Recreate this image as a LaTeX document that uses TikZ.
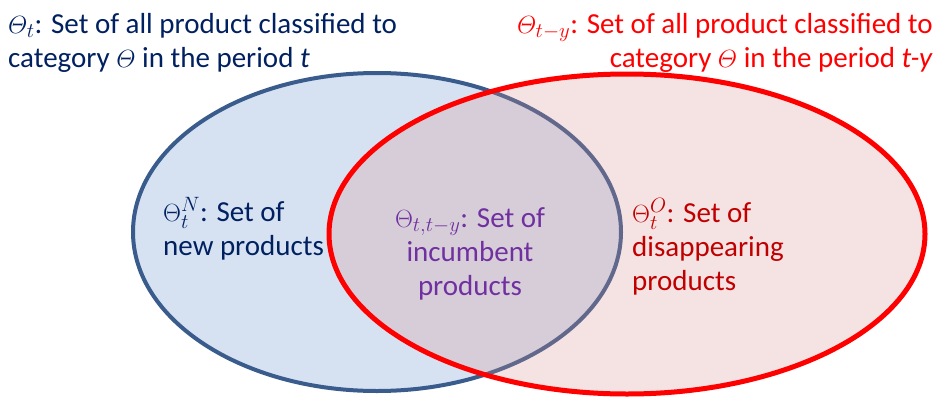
\documentclass[tikz,border=0pt]{standalone}
\usepackage{amsmath}
\usepackage{fontspec}
\setmainfont{Carlito}
\usepackage{tikz}
\definecolor{setline}{RGB}{58,92,140}
\definecolor{setfill}{RGB}{214,226,242}
\definecolor{oldfill}{RGB}{215,143,143}
\definecolor{navytext}{RGB}{0,32,96}
\definecolor{darkred}{RGB}{192,0,0}
\definecolor{incpurple}{RGB}{112,48,160}

\begin{document}
\begin{tikzpicture}[x=1pt,y=-1pt,
    lbl/.style={font=\fontsize{29}{34}\selectfont,inner sep=0pt}]
  \useasboundingbox (0,0) rectangle (939,396);
  \draw[setline,fill=setfill,line width=4pt] (377,232) ellipse (244 and 159);
  \draw[red,fill=oldfill,fill opacity=.25,line width=5pt] (627,234) ellipse (298 and 160);
  \node[lbl,text=navytext,anchor=base west,align=left] (setnow) at (8,67)
    {$\varTheta_t$: Set of all product classified to\\category $\varTheta$ in the period \textit{t}};
  \node[lbl,text=red,anchor=base east,align=right] (setold) at (933,67)
    {$\varTheta_{t-y}$: Set of all product classified to\\category $\varTheta$ in the period \textit{t-y}};
  \node[lbl,text=navytext,anchor=base west,align=left] (newprod) at (163,255)
    {$\Theta^N_t$: Set of\\new products};
  \node[lbl,text=incpurple,anchor=base,align=center] (incprod) at (470,295)
    {$\Theta_{t,t-y}$: Set of\\incumbent\\products};
  \node[lbl,text=darkred,anchor=base west,align=left] (goneprod) at (632,290)
    {$\Theta^O_t$: Set of\\disappearing\\products};
\end{tikzpicture}
\end{document}
